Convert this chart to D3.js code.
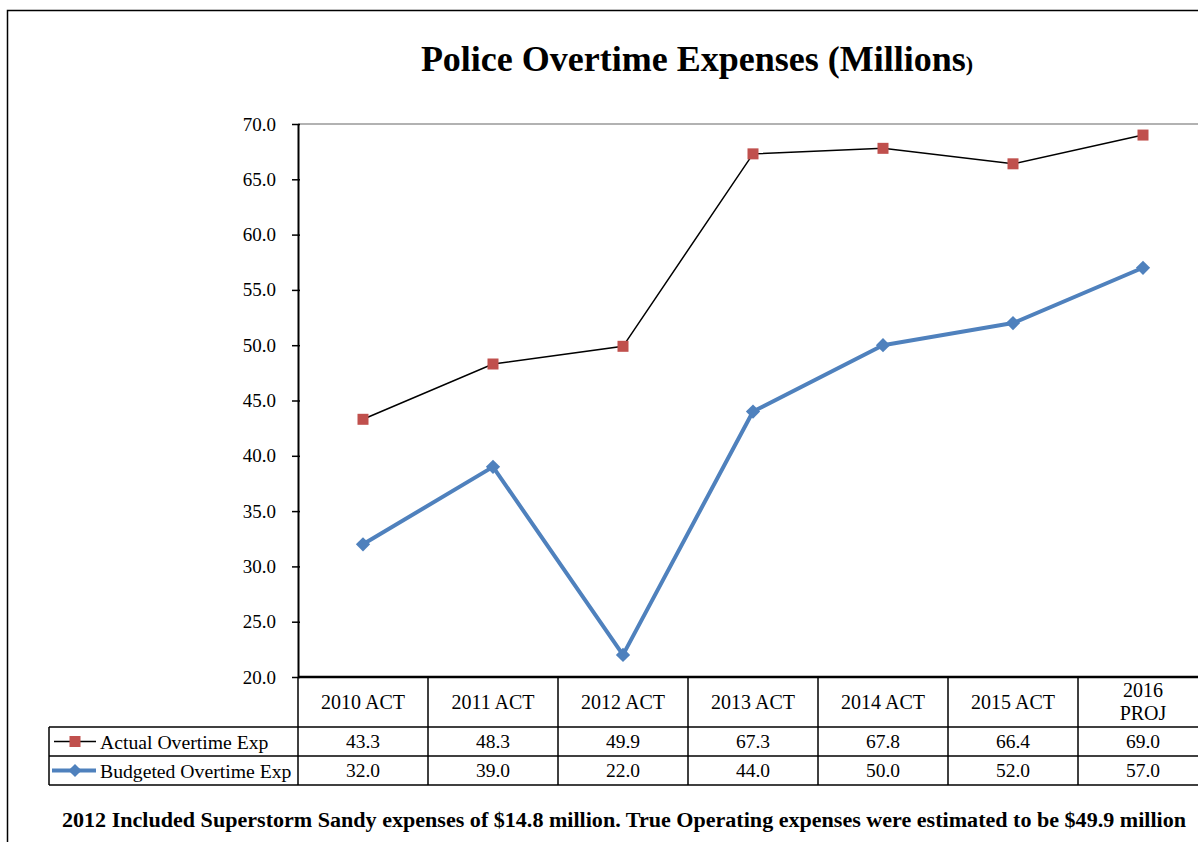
<!DOCTYPE html>
<html>
<head>
<meta charset="utf-8">
<script src="https://cdn.jsdelivr.net/npm/d3@7"></script>
<style>
  html, body { margin: 0; padding: 0; background: #fff; }
  svg { display: block; }
  text { font-family: "Liberation Serif", "Times New Roman", serif; fill: #000; }
</style>
</head>
<body>
<svg id="chart" width="1198" height="842"></svg>
<script>
// Police overtime, millions of dollars
const categories = ["2010 ACT", "2011 ACT", "2012 ACT", "2013 ACT", "2014 ACT", "2015 ACT", "2016 PROJ"];
const actualOvertime = [43.3, 48.3, 49.9, 67.3, 67.8, 66.4, 69.0];
const budgetedOvertime = [32.0, 39.0, 22.0, 44.0, 50.0, 52.0, 57.0];
const yTicks = [20, 25, 30, 35, 40, 45, 50, 55, 60, 65, 70];
const seriesNames = ["Actual Overtime Exp", "Budgeted Overtime Exp"];
const footnote = "2012 Included Superstorm Sandy expenses of $14.8 million. True Operating expenses were estimated to be $49.9 million";

const RED = "#C0504D", BLUE = "#4F81BD";
const svg = d3.select("#chart");

// frame around the whole chart
svg.append("rect").attr("x", 7.5).attr("y", 10.5).attr("width", 1220).attr("height", 860)
  .attr("fill", "none").attr("stroke", "#000").attr("stroke-width", 1.5);

// title
const title = svg.append("text").attr("x", 697).attr("y", 71).attr("text-anchor", "middle")
  .style("font-weight", "bold").style("font-size", "36px");
title.append("tspan").text("Police Overtime Expenses (Millions");
title.append("tspan").style("font-size", "22px").text(")");

// plot geometry
const plotLeft = 298, plotTop = 124, plotBottom = 677, bandW = 130;
const plotRight = plotLeft + bandW * categories.length;
const x = d3.scaleBand().domain(categories).range([plotLeft, plotRight]);
const y = d3.scaleLinear().domain([20, 70]).range([plotBottom, plotTop]);
const cx = c => x(c) + x.bandwidth() / 2;

// top border of the plot area
svg.append("line").attr("x1", plotLeft).attr("x2", plotRight).attr("y1", y(70)).attr("y2", y(70))
  .attr("stroke", "#999").attr("stroke-width", 1.5);

// value axis
const yAxis = svg.append("g").attr("transform", `translate(${plotLeft},0)`)
  .call(d3.axisLeft(y).tickValues(yTicks).tickFormat(d3.format(".1f")).tickSize(6).tickSizeOuter(0).tickPadding(16));
yAxis.select(".domain").attr("stroke", "#000").attr("stroke-width", 2);
yAxis.selectAll(".tick line").attr("stroke", "#000").attr("stroke-width", 1.5).attr("x2", -6).attr("x1", 2);
yAxis.selectAll(".tick text").style("font-family", '"Liberation Serif", serif').style("font-size", "19px").attr("fill", "#000");

// data table below the plot
const tbl = svg.append("g").attr("stroke", "#000").attr("stroke-width", 1.5);
tbl.append("line").attr("x1", plotLeft).attr("x2", plotRight).attr("y1", plotBottom).attr("y2", plotBottom).attr("stroke-width", 2.5);
[727, 756, 785].forEach(yy => tbl.append("line").attr("x1", 49).attr("x2", plotRight).attr("y1", yy).attr("y2", yy));
tbl.append("line").attr("x1", 49).attr("x2", 49).attr("y1", 727).attr("y2", 785);
categories.forEach(c => {
  tbl.append("line").attr("x1", x(c)).attr("x2", x(c)).attr("y1", plotBottom).attr("y2", 785);
});
tbl.append("line").attr("x1", plotRight).attr("x2", plotRight).attr("y1", plotBottom).attr("y2", 785);

// category labels
categories.forEach(c => {
  const parts = c.startsWith("2016") ? c.split(" ") : [c];
  const t = svg.append("text").attr("text-anchor", "middle").style("font-size", "20px");
  parts.forEach((p, i) => {
    t.append("tspan").attr("x", cx(c))
      .attr("y", parts.length === 1 ? 709 : 697 + i * 23).text(p);
  });
});

// table values
const rows = [actualOvertime, budgetedOvertime];
rows.forEach((vals, r) => {
  svg.append("g").selectAll("text").data(vals).join("text")
    .attr("x", (d, i) => cx(categories[i]))
    .attr("y", r === 0 ? 748 : 777)
    .attr("text-anchor", "middle").style("font-size", "19.5px")
    .text(d => d.toFixed(1));
});

// legend keys inside the table
const legendY = [741.5, 770.5];
svg.append("line").attr("x1", 54).attr("x2", 96).attr("y1", legendY[0]).attr("y2", legendY[0])
  .attr("stroke", "#000").attr("stroke-width", 1.5);
svg.append("rect").attr("x", 75 - 5.5).attr("y", legendY[0] - 5.5).attr("width", 11).attr("height", 11).attr("fill", RED);
svg.append("line").attr("x1", 52).attr("x2", 96).attr("y1", legendY[1]).attr("y2", legendY[1])
  .attr("stroke", BLUE).attr("stroke-width", 4);
svg.append("path").attr("d", d3.symbol(d3.symbolDiamond2, 110)())
  .attr("transform", `translate(75,${legendY[1]})`).attr("fill", BLUE);
seriesNames.forEach((n, i) => {
  svg.append("text").attr("x", 100).attr("y", legendY[i] + 7).style("font-size", "19.7px").text(n);
});

// series lines
const line = d3.line().x((d, i) => cx(categories[i])).y(d => y(d));
svg.append("path").datum(budgetedOvertime).attr("d", line)
  .attr("fill", "none").attr("stroke", BLUE).attr("stroke-width", 4).attr("stroke-linejoin", "round");
svg.append("g").selectAll("path").data(budgetedOvertime).join("path")
  .attr("d", d3.symbol(d3.symbolDiamond2, 130)())
  .attr("transform", (d, i) => `translate(${cx(categories[i])},${y(d)})`)
  .attr("fill", BLUE);

svg.append("path").datum(actualOvertime).attr("d", line)
  .attr("fill", "none").attr("stroke", "#000").attr("stroke-width", 1.5);
svg.append("g").selectAll("rect").data(actualOvertime).join("rect")
  .attr("x", (d, i) => cx(categories[i]) - 5.5).attr("y", d => y(d) - 5.5)
  .attr("width", 11).attr("height", 11).attr("fill", RED);

// footnote
svg.append("text").attr("x", 624).attr("y", 827).attr("text-anchor", "middle")
  .attr("textLength", 1124).attr("lengthAdjust", "spacingAndGlyphs")
  .style("font-weight", "bold").style("font-size", "20px").text(footnote);
</script>
</body>
</html>
